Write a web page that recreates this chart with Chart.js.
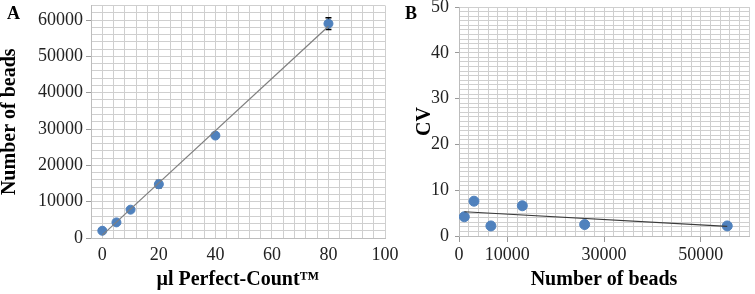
<!DOCTYPE html>
<html>
<head>
<meta charset="utf-8">
<script src="https://cdn.jsdelivr.net/npm/chart.js@4"></script>
<style>
  body { margin: 0; background: #fff; }
  #wrap { position: relative; width: 755px; height: 294px; overflow: hidden; }
  canvas { position: absolute; top: 0; }
  #chartA { left: 0; }
  #chartB { left: 380px; }
  .panel { position: absolute; font: bold 18px 'Liberation Serif', serif; line-height: 1; color: #000; }
</style>
</head>
<body>
<div id="wrap">
  <canvas id="chartA" width="400" height="294"></canvas>
  <canvas id="chartB" width="375" height="294"></canvas>
  <div class="panel" style="left:7px;top:4px">A</div>
  <div class="panel" style="left:405px;top:4px">B</div>
</div>
<script>
// Panel A: beads counted vs volume of Perfect-Count
const volumes = [0, 5, 10, 20, 40, 80];
const beadCounts = [2000, 4300, 7800, 14800, 28200, 59000];
const beadErrors = [300, 300, 400, 1000, 500, 1600];
const trendAx = [0, 80];
const trendAy = [800, 58300];

// Panel B: CV vs number of beads
const cvBeads = [1100, 3100, 6600, 13100, 26000, 55500];
const cvValues = [4.2, 7.6, 2.2, 6.6, 2.5, 2.2];
const trendBx = [1100, 55500];
const trendBy = [5.3, 2.1];

const xTicksA = [0, 20, 40, 60, 80, 100];
const yTicksA = [0, 10000, 20000, 30000, 40000, 50000, 60000];
const xTicksB = [0, 10000, 30000, 50000];
const yTicksB = [0, 10, 20, 30, 40, 50];

Chart.defaults.font.family = "'Liberation Serif', 'Times New Roman', serif";
Chart.defaults.font.size = 18;
Chart.defaults.color = '#222';

const gridColor = '#cfcfcf';
const dotColor = '#4f81bd';

const toPoints = (xs, ys) => xs.map((v, i) => ({ x: v, y: ys[i] }));

// error bars drawn through the chart's own scales
const errorBars = {
  id: 'errorBars',
  beforeDatasetsDraw(chart) {
    if (chart.canvas.id !== 'chartA') return;
    const { ctx, scales: { x, y } } = chart;
    ctx.save();
    ctx.strokeStyle = '#000';
    ctx.lineWidth = 1.5;
    volumes.forEach((v, i) => {
      const px = x.getPixelForValue(v);
      const top = y.getPixelForValue(beadCounts[i] + beadErrors[i]);
      const bot = y.getPixelForValue(beadCounts[i] - beadErrors[i]);
      ctx.beginPath();
      ctx.moveTo(px, top); ctx.lineTo(px, bot);
      ctx.moveTo(px - 3, top); ctx.lineTo(px + 3, top);
      ctx.moveTo(px - 3, bot); ctx.lineTo(px + 3, bot);
      ctx.stroke();
    });
    ctx.restore();
  }
};

function axis(opts) {
  return {
    type: 'linear',
    min: opts.min,
    max: opts.max,
    border: { color: '#bdbdbd' },
    grid: {
      color: gridColor,
      lineWidth: 1,
      drawTicks: opts.tickLength > 0,
      tickLength: opts.tickLength,
      tickColor: c => opts.labels.includes(c.tick.value) ? '#9a9a9a' : 'rgba(0,0,0,0)'
    },
    ticks: {
      stepSize: opts.step,
      autoSkip: false,
      maxTicksLimit: 200,
      maxRotation: 0,
      padding: opts.padding,
      font: { size: 18, lineHeight: 1 },
      callback: v => opts.labels.includes(v) ? String(v) : ''
    },
    title: {
      display: true,
      text: opts.title,
      color: '#000',
      font: { size: 20, weight: 'bold', lineHeight: 1 },
      padding: opts.titlePadding
    },
    afterFit: s => {
      if (opts.width) s.width = opts.width;
      if (opts.height) s.height = opts.height;
      s.paddingTop = 0; s.paddingBottom = 0;
      s.paddingLeft = 0; s.paddingRight = 0;
    }
  };
}

new Chart(document.getElementById('chartA'), {
  type: 'scatter',
  data: {
    datasets: [{
      type: 'line',
      data: toPoints(trendAx, trendAy),
      borderColor: '#7f7f7f',
      borderWidth: 1.2,
      pointRadius: 0
    }, {
      data: toPoints(volumes, beadCounts),
      backgroundColor: dotColor,
      borderColor: dotColor,
      pointRadius: 4.5
    }]
  },
  options: {
    responsive: false,
    animation: false,
    layout: { padding: { left: 0, top: 5, right: 15, bottom: 0 } },
    plugins: { legend: { display: false }, tooltip: { enabled: false } },
    scales: {
      x: axis({ min: -4, max: 100, step: 4, labels: xTicksA, tickLength: 0, padding: 8,
                height: 56, title: 'µl Perfect-Count\u2122', titlePadding: { top: 0, bottom: 4 } }),
      y: axis({ min: 0, max: 64000, step: 2000, labels: yTicksA, tickLength: 5, padding: 3,
                width: 91, title: 'Number of beads', titlePadding: { top: 0, bottom: 0 } })
    }
  },
  plugins: [errorBars]
});

new Chart(document.getElementById('chartB'), {
  type: 'scatter',
  data: {
    datasets: [{
      type: 'line',
      data: toPoints(trendBx, trendBy),
      borderColor: '#3a3a3a',
      borderWidth: 1.2,
      pointRadius: 0
    }, {
      data: toPoints(cvBeads, cvValues),
      backgroundColor: dotColor,
      borderColor: dotColor,
      pointRadius: 5
    }]
  },
  options: {
    responsive: false,
    animation: false,
    layout: { padding: { left: 0, top: 7, right: 5, bottom: 0 } },
    plugins: { legend: { display: false }, tooltip: { enabled: false } },
    scales: {
      x: axis({ min: 0, max: 60000, step: 2000, labels: xTicksB, tickLength: 6, padding: 4,
                height: 58, title: 'Number of beads', titlePadding: { top: 0, bottom: 4 } }),
      y: axis({ min: 0, max: 50, step: 1, labels: yTicksB, tickLength: 4, padding: 6,
                width: 79, title: 'CV', titlePadding: { top: 35, bottom: 0 } })
    }
  }
});
</script>
</body>
</html>
